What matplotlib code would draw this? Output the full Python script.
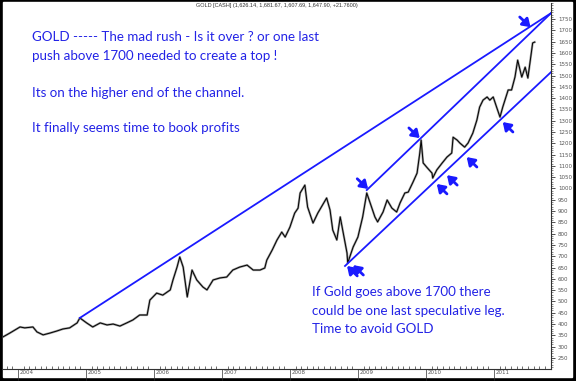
import matplotlib
matplotlib.use("Agg")
import matplotlib.pyplot as plt
import matplotlib.transforms as mtransforms
from matplotlib.patches import Rectangle

# weekly-ish closes (decimal year, price)
years = [2003.78, 2003.88, 2004.03, 2004.10, 2004.22, 2004.28, 2004.37, 2004.47, 2004.57,
         2004.66, 2004.76, 2004.87, 2004.91, 2005.01, 2005.10, 2005.21, 2005.31, 2005.40,
         2005.50, 2005.60, 2005.69, 2005.79, 2005.90, 2005.94, 2006.04, 2006.13, 2006.24,
         2006.28, 2006.34, 2006.38, 2006.43, 2006.49, 2006.56, 2006.63, 2006.72, 2006.78,
         2006.87, 2006.97, 2007.07, 2007.16, 2007.26, 2007.37, 2007.46, 2007.56, 2007.63,
         2007.66, 2007.74, 2007.81, 2007.88, 2007.93, 2008.00, 2008.07, 2008.12, 2008.15,
         2008.22, 2008.26, 2008.34, 2008.41, 2008.54, 2008.59, 2008.63, 2008.69, 2008.74,
         2008.84, 2008.85, 2008.93, 2009.00, 2009.07, 2009.13, 2009.18, 2009.25, 2009.29,
         2009.37, 2009.43, 2009.50, 2009.57, 2009.62, 2009.69, 2009.74, 2009.81, 2009.87,
         2009.91, 2009.93, 2009.96, 2010.01, 2010.09, 2010.10, 2010.16, 2010.24, 2010.31,
         2010.38, 2010.40, 2010.46, 2010.50, 2010.57, 2010.62, 2010.69, 2010.75, 2010.79,
         2010.84, 2010.90, 2010.94, 2010.99, 2011.04, 2011.09, 2011.13, 2011.21, 2011.26,
         2011.31, 2011.35, 2011.41, 2011.46, 2011.50, 2011.53, 2011.57, 2011.60]
prices = [343, 360, 387, 383, 387, 365, 352, 360, 369,
          378, 383, 405, 427, 405, 387, 405, 396, 400,
          391, 405, 418, 440, 440, 506, 537, 528, 551,
          595, 652, 697, 652, 520, 639, 595, 564, 551,
          595, 604, 608, 639, 652, 661, 639, 639, 648,
          683, 728, 772, 807, 785, 829, 891, 913, 980,
          1015, 918, 847, 891, 958, 905, 816, 772, 874,
          714, 670, 741, 785, 874, 980, 936, 874, 852,
          896, 949, 913, 896, 936, 980, 984, 1028, 1068,
          1157, 1214, 1113, 1095, 1068, 1046, 1082, 1113, 1139,
          1157, 1227, 1214, 1201, 1183, 1201, 1245, 1303, 1360,
          1391, 1405, 1391, 1405, 1360, 1316, 1360, 1436, 1436,
          1493, 1568, 1493, 1537, 1489, 1555, 1644, 1648]

# hand-drawn channel lines: (start year, start price, end year, end price)
long_line = (2004.91, 427, 2011.84, 1776)
upper_channel = (2009.13, 993, 2011.84, 1776)
lower_channel = (2008.81, 657, 2011.84, 1515)

# arrows: (tip year, tip price, tail year, tail price)
arrows = [(2009.15, 998, 2008.99, 1043),
          (2009.91, 1223, 2009.75, 1268),
          (2011.54, 1714, 2011.38, 1759),
          (2008.84, 657, 2008.99, 613),
          (2008.93, 661, 2009.08, 617),
          (2010.16, 1020, 2010.31, 976),
          (2010.31, 1059, 2010.46, 1015),
          (2010.60, 1139, 2010.75, 1095),
          (2011.13, 1294, 2011.28, 1250)]

year_ticks = [2004, 2005, 2006, 2007, 2008, 2009, 2010, 2011]
price_ticks = list(range(250, 1751, 50))

header = "GOLD [CASH] (1,626.14, 1,681.67, 1,607.69, 1,647.90, +21.7600)"
note_top = ["GOLD ----- The mad rush - Is it over ? or one last",
            "push above 1700 needed to create a top !",
            "Its on the higher end of the channel.",
            "It finally seems time to book profits"]
note_bottom = ["If Gold goes above 1700 there",
               "could be one last speculative leg.",
               "Time to avoid GOLD"]

blue = "#1a1aff"
txt_blue = "#2323e6"

fig = plt.figure(figsize=(5.76, 3.81), dpi=100)
fig.patch.set_facecolor("black")
fig.add_artist(Rectangle((3 / 576, 4 / 381), 569 / 576, 375 / 381,
                         transform=fig.transFigure, color="white", zorder=0))
ax = fig.add_axes([3 / 576, 12 / 381, 548 / 576, 366 / 381])
ax.set_facecolor("none")

ax.plot(years, prices, color="#9a9a9a", lw=1.6, zorder=2)
ax.plot(years, prices, color="black", lw=0.7, zorder=3)

for x0, y0, x1, y1 in (long_line, upper_channel, lower_channel):
    ax.plot([x0, x1], [y0, y1], color=blue, lw=1.3, zorder=4)

for tx, ty, sx, sy in arrows:
    ax.annotate("", xy=(tx, ty), xytext=(sx, sy),
                arrowprops=dict(arrowstyle="-|>,head_length=0.45,head_width=0.3",
                                color=blue, lw=2.0, shrinkA=0, shrinkB=0), zorder=5)

ax.set_xlim(2003.78, 2011.84)
ax.set_ylim(201, 1821)

for s in ("left", "top"):
    ax.spines[s].set_visible(False)
ax.spines["right"].set_color("#333333")
ax.spines["bottom"].set_color("#333333")
ax.spines["right"].set_linewidth(0.8)
ax.spines["bottom"].set_linewidth(0.8)

ax.yaxis.tick_right()
ax.set_yticks(price_ticks)
ax.yaxis.set_minor_locator(plt.MultipleLocator(10))
ax.tick_params(axis="y", which="major", length=3, width=0.6, color="#333333",
               labelsize=4, labelcolor="#555555", pad=2)
ax.tick_params(axis="y", which="minor", length=1.5, width=0.4, color="#333333")

ax.set_xticks(year_ticks)
ax.set_xticklabels([str(y) for y in year_ticks])
ax.xaxis.set_minor_locator(plt.MultipleLocator(1 / 12))
ax.tick_params(axis="x", which="major", length=8, width=0.5, color="#333333",
               labelsize=4, labelcolor="#555555", pad=-7)
ax.tick_params(axis="x", which="minor", direction="in", length=2, width=0.5,
               color="#333333")
off = mtransforms.ScaledTranslation(1.5 / 72, 0, fig.dpi_scale_trans)
for lab in ax.get_xticklabels():
    lab.set_horizontalalignment("left")
    lab.set_transform(lab.get_transform() + off)

fig.text(277 / 576, 1 - 5 / 381, header, ha="center", va="center",
         fontsize=4, color="#333333", family="Liberation Sans")

for txt, py in zip(note_top, [37, 56, 93, 128]):
    ax.text((32 - 3) / 548, (369 - py) / 366, txt, transform=ax.transAxes,
            ha="left", va="center", fontsize=9.6, color=txt_blue, family="Lato")
for txt, py in zip(note_bottom, [292, 311, 329]):
    ax.text((312 - 3) / 548, (369 - py) / 366, txt, transform=ax.transAxes,
            ha="left", va="center", fontsize=9.6, color=txt_blue, family="Lato")

fig.savefig("out.png", dpi=100, facecolor=fig.get_facecolor())
